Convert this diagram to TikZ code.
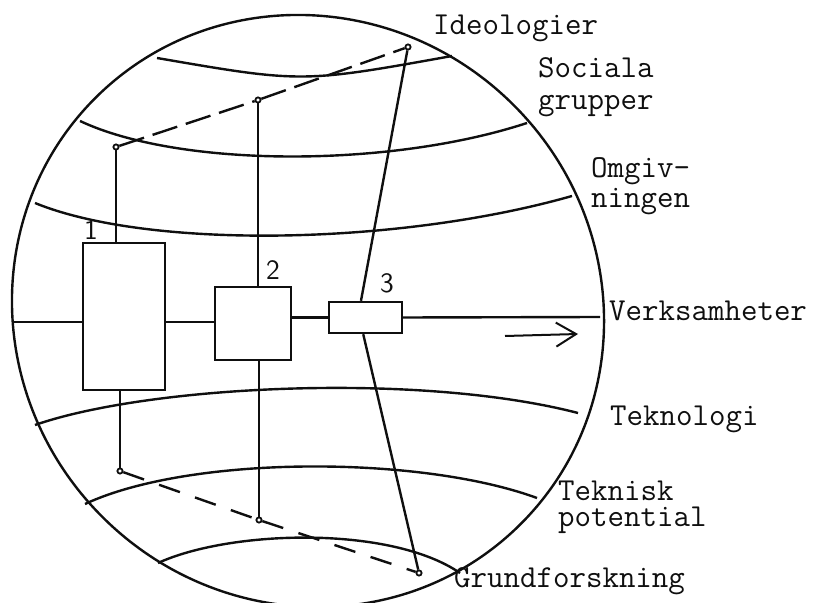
\documentclass[tikz,border=0pt]{standalone}
\usepackage{xcolor}
\usepackage{tikz}
\definecolor{ink}{rgb}{0.06,0.06,0.06}
\usetikzlibrary{calc,positioning,arrows.meta}

\begin{document}
\begin{tikzpicture}[x=0.5pt,y=-0.5pt,line width=1.2pt,color=ink,
  box/.style={draw,rectangle,inner sep=0pt},
  hole/.style={draw,circle,inner sep=0pt,minimum size=2.6pt,line width=0.9pt,fill=white},
  lab/.style={anchor=base west,inner sep=0pt,align=left,font=\ttfamily\fontsize{16}{18}\selectfont},
  num/.style={inner sep=0pt,font=\sffamily\fontsize{14}{16}\selectfont},
  linkup/.style={dash pattern=on 13pt off 4.5pt},
  linkdown/.style={dash pattern=on 11pt off 8pt}]
\useasboundingbox (0,0) rectangle (817,603);

% the globe
\draw[rotate around={-45:(308,311)}] (308,311) ellipse [x radius=301, y radius=291];

% layers
\draw (157,58) .. controls (302,83) .. (452,56);
\draw (80,121) .. controls (180,168) and (390,168) .. (527,123);
\draw (35,203) .. controls (150,250) and (400,245) .. (572,196);
\draw (35,425) .. controls (150,385) and (420,372) .. (578,413);
\draw (85,504) .. controls (190,455) and (420,455) .. (537,498);
\draw (158,563) .. controls (230,530) and (390,525) .. (460,573);

% boxes
\node[box,minimum width=41pt,minimum height=73.5pt] (b1) at (124,316.5) {};
\node[box,minimum width=38pt,minimum height=36.5pt] (b2) at (253,323.5) {};
\node[box,minimum width=36.5pt,minimum height=15.5pt] (b3) at (365.5,317.5) {};
\node[num] (n1) at (91,230) {1};
\node[num] (n2) at (273,270) {2};
\node[num] (n3) at (387,283) {3};

% verksamheter line
\coordinate (wl) at (13,322);
\coordinate (wr) at (600,317);
\draw (wl) -- (wl -| b1.west);
\draw (b1.east |- wl) -- (b2.west |- wl);
\draw (b2.east |- b3.west) -- (b3.west);
\draw (b3.east) -- (wr);
\coordinate (fl) at (505,336);
\coordinate (fr) at (578,334);
\draw[line width=1pt,-{Straight Barb[length=10pt,width=12pt]}] (fl) -- (fr);

% ideologier side
\node[hole] (i1) at (116,147) {};
\node[hole] (i2) at (258,100) {};
\node[hole] (i3) at (408,47) {};
\draw (i1) -- (i1 |- b1.north);
\draw (i2) -- (i2 |- b2.north);
\draw (i3) -- ($(b3.north west)!.44!(b3.north east)$);
\draw[linkup] (i1) -- (i2) -- (i3);

% grundforskning side
\node[hole] (g1) at (120,471) {};
\node[hole] (g2) at (259,520) {};
\node[hole] (g3) at (419,573) {};
\draw (g1) -- (g1 |- b1.south);
\draw (g2) -- (g2 |- b2.south);
\draw (g3) -- ($(b3.south west)!.47!(b3.south east)$);
\draw[linkdown] (g1) -- (g2) -- (g3);

% names (base = last line)
\node[lab] (ideo) at (432,35) {Ideologier};
\node[lab] (soc) at (537,110) {Sociala\\[-2pt]grupper};
\node[lab] (omg) at (590,208) {Omgiv-\\[-3pt]ningen};
\node[lab] (verk) at (608,321) {Verksamheter};
\node[lab] (tekn) at (609,425) {Teknologi};
\node[lab] (tek) at (557,526) {Teknisk\\[-5pt]potential};
\node[lab] (grund) at (453,587) {Grundforskning};
\end{tikzpicture}
\end{document}
